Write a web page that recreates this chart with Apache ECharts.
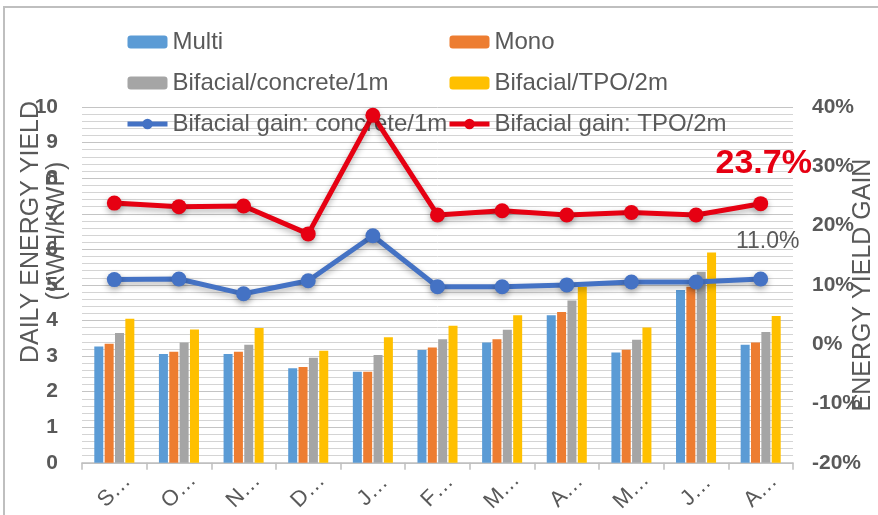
<!DOCTYPE html>
<html>
<head>
<meta charset="utf-8">
<script src="https://cdn.jsdelivr.net/npm/echarts@6/dist/echarts.min.js"></script>
<style>
  html, body { margin: 0; padding: 0; background: #fff; }
  #chart { width: 878px; height: 515px; }
</style>
</head>
<body>
<div id="chart"></div>
<script>
// month tick labels as shown (truncated by the chart)
const months = ["S…", "O…", "N…", "D…", "J…", "F…", "M…", "A…", "M…", "J…", "A…"]

// daily energy yield, kWh/kWp
const multi = [3.27, 3.06, 3.06, 2.66, 2.56, 3.17, 3.38, 4.15, 3.10, 4.86, 3.32]
const mono = [3.35, 3.12, 3.12, 2.69, 2.56, 3.24, 3.47, 4.24, 3.18, 4.95, 3.38]
const bifConcrete = [3.65, 3.38, 3.32, 2.95, 3.03, 3.47, 3.74, 4.56, 3.46, 5.37, 3.68]
const bifTpo = [4.05, 3.75, 3.79, 3.15, 3.53, 3.85, 4.15, 4.95, 3.80, 5.91, 4.13]

// bifacial gain, %
const gainConcrete = [10.9, 11.0, 8.5, 10.7, 18.3, 9.7, 9.7, 10.0, 10.5, 10.5, 11.0]
const gainTpo = [23.8, 23.2, 23.3, 18.6, 38.6, 21.8, 22.5, 21.8, 22.2, 21.8, 23.7]

const font = "'Liberation Sans', Arial, sans-serif"
const txt = "#595959"

function barSeries(name, data, color) {
  return {
    name: name,
    type: "bar",
    data: data,
    barWidth: 9,
    barGap: "15%",
    itemStyle: { color: color }
  }
}

function lineSeries(name, data, color, lastLabel) {
  const last = data.length - 1
  return {
    name: name,
    type: "line",
    yAxisIndex: 1,
    z: 5,
    symbol: "circle",
    symbolSize: 15,
    lineStyle: {
      width: 5,
      color: color,
      shadowColor: "rgba(0,0,0,0.3)",
      shadowBlur: 6,
      shadowOffsetY: 3
    },
    itemStyle: {
      color: color,
      shadowColor: "rgba(0,0,0,0.3)",
      shadowBlur: 6,
      shadowOffsetY: 3
    },
    data: data.map((v, i) => i === last ? { value: v, label: lastLabel } : v)
  }
}

function legendCol(left, names) {
  return {
    orient: "vertical",
    left: left,
    top: 25,
    itemWidth: 40,
    itemHeight: 13,
    itemGap: 17,
    z: 1,
    textStyle: { fontSize: 24, color: txt, fontFamily: font, lineHeight: 24 },
    data: names.map((n, i) => i === 2 ? { name: n, lineStyle: { width: 5 } } : n)
  }
}

let myChart = echarts.init(document.getElementById("chart"))
myChart.setOption({
  animation: false,
  textStyle: { fontFamily: font },
  grid: {
    left: 82,
    right: 85,
    top: 107,
    bottom: 52
  },
  legend: [
    legendCol(120, ["Multi", "Bifacial/concrete/1m", "Bifacial gain: concrete/1m"]),
    legendCol(442, ["Mono", "Bifacial/TPO/2m", "Bifacial gain: TPO/2m"])
  ],
  xAxis: {
    type: "category",
    data: months,
    axisLine: { lineStyle: { color: "#bfbfbf", width: 1.5 } },
    axisTick: { show: true, length: 7, lineStyle: { color: "#bfbfbf", width: 1.5 } },
    axisLabel: {
      rotate: 45,
      align: "center",
      verticalAlign: "middle",
      margin: 28,
      fontSize: 22,
      color: txt,
      fontFamily: font
    }
  },
  yAxis: [
    {
      type: "value",
      min: 0,
      max: 10,
      interval: 1,
      axisLine: { show: false },
      axisTick: { show: false },
      axisLabel: { fontSize: 21, fontWeight: "bold", color: txt, margin: 24, fontFamily: font },
      splitLine: { lineStyle: { color: "#c4c4c4" } },
      minorTick: { show: false, splitNumber: 5 },
      minorSplitLine: { show: true, lineStyle: { color: "#d4d4d4" } }
    },
    {
      type: "value",
      min: -20,
      max: 40,
      interval: 10,
      axisLine: { show: false },
      axisTick: { show: false },
      splitLine: { show: false },
      axisLabel: {
        formatter: "{value}%",
        fontSize: 21,
        fontWeight: "bold",
        color: txt,
        margin: 19,
        fontFamily: font
      }
    }
  ],
  graphic: [
    {
      type: "rect",
      silent: true,
      shape: { x: 4, y: 7, width: 1000, height: 1000 },
      style: { fill: "none", stroke: "#bfbfbf", lineWidth: 2 }
    },
    {
      type: "text",
      x: 31,
      y: 232,
      rotation: Math.PI / 2,
      style: {
        text: "DAILY ENERGY YIELD",
        fontSize: 25,
        fontFamily: font,
        fill: txt,
        align: "center",
        verticalAlign: "middle"
      }
    },
    {
      type: "text",
      x: 57,
      y: 231,
      rotation: Math.PI / 2,
      style: {
        text: "(KWH/KWP)",
        fontSize: 25,
        fontFamily: font,
        fill: txt,
        align: "center",
        verticalAlign: "middle"
      }
    },
    {
      type: "text",
      x: 863,
      y: 285,
      rotation: Math.PI / 2,
      style: {
        text: "ENERGY YIELD GAIN",
        fontSize: 25,
        fontFamily: font,
        fill: txt,
        align: "center",
        verticalAlign: "middle"
      }
    }
  ],
  series: [
    barSeries("Multi", multi, "#5b9bd5"),
    barSeries("Mono", mono, "#ed7d31"),
    barSeries("Bifacial/concrete/1m", bifConcrete, "#a5a5a5"),
    barSeries("Bifacial/TPO/2m", bifTpo, "#ffc000"),
    lineSeries("Bifacial gain: concrete/1m", gainConcrete, "#4472c4", {
      show: true,
      position: "top",
      distance: 18,
      offset: [7, 0],
      formatter: "{c}.0%",
      fontSize: 23,
      color: txt,
      fontFamily: font
    }),
    lineSeries("Bifacial gain: TPO/2m", gainTpo, "#e60012", {
      show: true,
      position: "top",
      distance: 16,
      offset: [3, 0],
      formatter: "{c}%",
      fontSize: 34,
      fontWeight: "bold",
      color: "#e60012",
      fontFamily: font
    })
  ]
})
</script>
</body>
</html>
